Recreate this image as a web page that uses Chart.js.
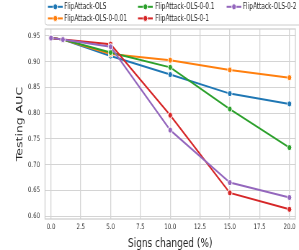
<!DOCTYPE html>
<html>
<head>
<meta charset="utf-8">
<script src="https://cdn.jsdelivr.net/npm/chart.js@4/dist/chart.umd.min.js"></script>
<style>
html,body{margin:0;padding:0;background:#fff;overflow:hidden;width:299px;height:250px;}
#wrap{width:415px;height:250px;transform:scaleX(0.72048);transform-origin:0 0;}
</style>
</head>
<body>
<div id="wrap"><canvas id="c" width="415" height="250"></canvas></div>
<script>
// ---- data ----
const signsChanged = [0, 1, 5, 10, 15, 20];
const seriesNames = ["FlipAttack-OLS", "FlipAttack-OLS-0-0.01", "FlipAttack-OLS-0-0.1", "FlipAttack-OLS-0-1", "FlipAttack-OLS-0-2"];
const olsAUC      = [0.946, 0.943, 0.911, 0.875, 0.838, 0.818];
const ols0001AUC  = [0.946, 0.943, 0.915, 0.903, 0.884, 0.869];
const ols001AUC   = [0.946, 0.943, 0.918, 0.889, 0.808, 0.733];
const ols01AUC    = [0.946, 0.943, 0.934, 0.796, 0.645, 0.613];
const ols02AUC    = [0.946, 0.943, 0.929, 0.767, 0.665, 0.636];
const xTicks = [0, 2.5, 5, 7.5, 10, 12.5, 15, 17.5, 20];
const yTicks = [0.60, 0.65, 0.70, 0.75, 0.80, 0.85, 0.90, 0.95];

const seriesValues = [olsAUC, ols0001AUC, ols001AUC, ols01AUC, ols02AUC];
const colors = ["#1f77b4", "#ff7f0e", "#2ca02c", "#d62728", "#9467bd"];

const datasets = seriesNames.map((name, i) => ({
  label: name,
  data: signsChanged.map((x, j) => ({x: x, y: seriesValues[i][j]})),
  borderColor: colors[i],
  backgroundColor: colors[i],
  pointBackgroundColor: colors[i],
  pointBorderColor: "#ffffff",
  pointBorderWidth: 1,
  pointRadius: 3.1,
  borderWidth: 2,
  tension: 0,
  order: seriesNames.length - i
}));

const FONT = "'DejaVu Sans', sans-serif";

const framePlugin = {
  id: 'frame',
  beforeDatasetsDraw(chart) {
    const {ctx, chartArea: a} = chart;
    ctx.save();
    ctx.strokeStyle = "#cccccc";
    ctx.lineWidth = 1.2;
    ctx.strokeRect(a.left, a.top, a.right - a.left, a.bottom - a.top);
    ctx.restore();
  }
};

const legendPlugin = {
  id: 'customLegend',
  afterDraw(chart) {
    const ctx = chart.ctx;
    const ds = chart.data.datasets;
    ctx.save();
    // box
    ctx.beginPath();
    if (ctx.roundRect) ctx.roundRect(62.5, -4, 360, 29, 3); else ctx.rect(62.5, -4, 360, 29);
    ctx.fillStyle = "rgba(255,255,255,0.85)";
    ctx.fill();
    ctx.strokeStyle = "#cccccc";
    ctx.lineWidth = 1;
    ctx.stroke();
    const colX = [66.5, 191.5, 314.5];
    const textX = [89, 215.5, 337];
    const rowY = [6.8, 18.4];
    const lineLen = 20.5;
    ctx.font = "8px " + FONT;
    ctx.textBaseline = "middle";
    ctx.textAlign = "left";
    ds.forEach((d, i) => {
      const col = Math.floor(i / 2), row = i % 2;
      const x0 = colX[col], y = rowY[row];
      ctx.strokeStyle = d.borderColor;
      ctx.lineWidth = 2;
      ctx.beginPath();
      ctx.moveTo(x0, y);
      ctx.lineTo(x0 + lineLen, y);
      ctx.stroke();
      ctx.beginPath();
      ctx.arc(x0 + lineLen / 2, y, 3.1, 0, Math.PI * 2);
      ctx.fillStyle = d.borderColor;
      ctx.fill();
      ctx.strokeStyle = "#ffffff";
      ctx.lineWidth = 1;
      ctx.stroke();
      ctx.fillStyle = "#262626";
      ctx.fillText(d.label, textX[col], y + 0.5);
    });
    ctx.restore();
  }
};

new Chart(document.getElementById('c'), {
  type: 'line',
  data: { datasets: datasets },
  plugins: [framePlugin, legendPlugin],
  options: {
    responsive: false,
    devicePixelRatio: 1,
    animation: false,
    layout: { padding: { top: 29, left: 0, right: 0, bottom: 0 } },
    plugins: { legend: { display: false }, tooltip: { enabled: false } },
    scales: {
      x: {
        type: 'linear',
        min: -0.5,
        max: 20.5,
        afterBuildTicks: s => { s.ticks = xTicks.map(v => ({value: v})); },
        afterFit: s => { s.height = 31; s.paddingLeft = 0; s.paddingRight = 0; },
        grid: { color: "#d4d4d4", lineWidth: 1.3, drawTicks: false },
        border: { display: false },
        ticks: {
          padding: 4,
          maxRotation: 0,
          autoSkip: false,
          color: "#333333",
          font: { family: FONT, size: 7.5 },
          callback: v => Number(v).toFixed(1)
        },
        title: {
          display: true,
          text: "Signs changed (%)",
          color: "#262626",
          font: { family: FONT, size: 12.5, lineHeight: 1 },
          padding: { top: 0, bottom: 0 }
        }
      },
      y: {
        type: 'linear',
        min: 0.5942,
        max: 0.9636,
        afterBuildTicks: s => { s.ticks = yTicks.map(v => ({value: v})); },
        afterFit: s => { s.width = 62.5; s.paddingTop = 0; s.paddingBottom = 0; },
        grid: { color: "#d4d4d4", lineWidth: 1, drawTicks: false },
        border: { display: false },
        ticks: {
          padding: 7,
          autoSkip: false,
          color: "#333333",
          font: { family: FONT, size: 7.5 },
          callback: v => Number(v).toFixed(2)
        },
        title: {
          display: true,
          text: "Testing AUC",
          color: "#262626",
          font: { family: FONT, size: 12.5, lineHeight: 1 },
          padding: { top: 21.5, bottom: 0 }
        }
      }
    }
  }
});
</script>
</body>
</html>
